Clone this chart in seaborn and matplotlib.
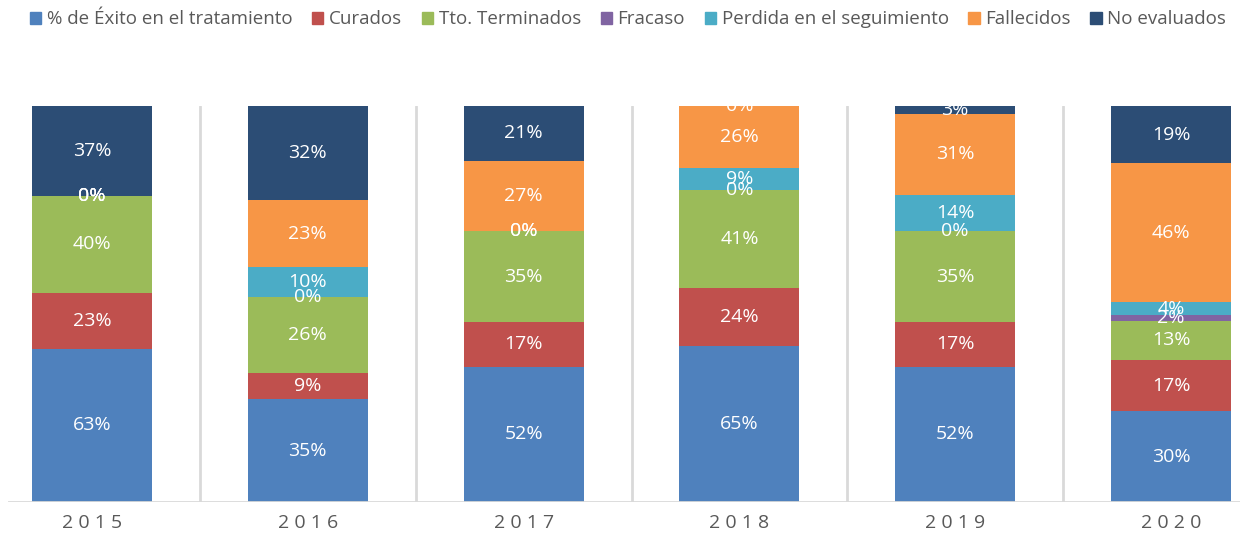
import numpy as np
import pandas as pd
import matplotlib
matplotlib.use("Agg")
import matplotlib.pyplot as plt
import seaborn as sns

# Data (labels are percentages, bars are 100% stacked)
years = ["2015", "2016", "2017", "2018", "2019", "2020"]
series = ["% de Éxito en el tratamiento", "Curados", "Tto. Terminados", "Fracaso",
          "Perdida en el seguimiento", "Fallecidos", "No evaluados"]
exito = [63, 35, 52, 65, 52, 30]
curados = [23, 9, 17, 24, 17, 17]
terminados = [40, 26, 35, 41, 35, 13]
fracaso = [0, 0, 0, 0, 0, 2]
perdida = [0, 10, 0, 9, 14, 4]
fallecidos = [0, 23, 27, 26, 31, 46]
no_evaluados = [37, 32, 21, 0, 3, 19]

colors = ["#4F81BD", "#C0504D", "#9BBB59", "#8064A2", "#4BACC6", "#F79646", "#2C4D75"]

values = np.array([exito, curados, terminados, fracaso, perdida, fallecidos, no_evaluados], dtype=float)
shares = values / values.sum(axis=0)
tops = shares.cumsum(axis=0)

sns.set_style("white")
plt.rcParams["font.family"] = ["Open Sans", "DejaVu Sans"]

fig = plt.figure(figsize=(12.4, 5.39), dpi=100)
ax = fig.add_axes([8 / 1240, 37 / 539, 1232 / 1240, 396 / 539])

# stacked bars: draw the tallest cumulative bar first, then cover it with the lower ones
for i in range(len(series) - 1, -1, -1):
    df = pd.DataFrame({"year": years, "top": tops[i]})
    sns.barplot(data=df, x="year", y="top", color=colors[i], width=0.556,
                saturation=1, linewidth=0, ax=ax, zorder=2)

# data labels
for i in range(len(series)):
    for j in range(len(years)):
        ymid = tops[i, j] - shares[i, j] / 2
        ax.text(j, ymid, f"{int(values[i, j])}%", ha="center", va="center",
                color="white", fontsize=14, zorder=5)

for k in range(len(years) - 1):
    ax.axvline(k + 0.5, color="#D9D9D9", lw=2, zorder=1)
ax.axhline(0, color="#D9D9D9", lw=2, zorder=3)

ax.set_xlim((8 - 92) / 215.8, (1240 - 92) / 215.8)
ax.set_ylim(0, 1)
ax.set_yticks([])
ax.set_xlabel("")
ax.set_ylabel("")
ax.set_xticks(range(len(years)))
ax.set_xticklabels([" ".join(y) for y in years], color="#595959", fontsize=14)
ax.tick_params(axis="x", length=0, pad=9)
sns.despine(ax=ax, left=True, bottom=True)

handles = [plt.Rectangle((0, 0), 1, 1, color=c) for c in colors]
fig.legend(handles, series, loc="upper center", bbox_to_anchor=(0.5065, 1.012), ncol=7,
           frameon=False, fontsize=13.5, handlelength=0.6, handleheight=0.6,
           handletextpad=0.3, columnspacing=1.05, labelcolor="#595959")

fig.savefig("out.png", dpi=100)
